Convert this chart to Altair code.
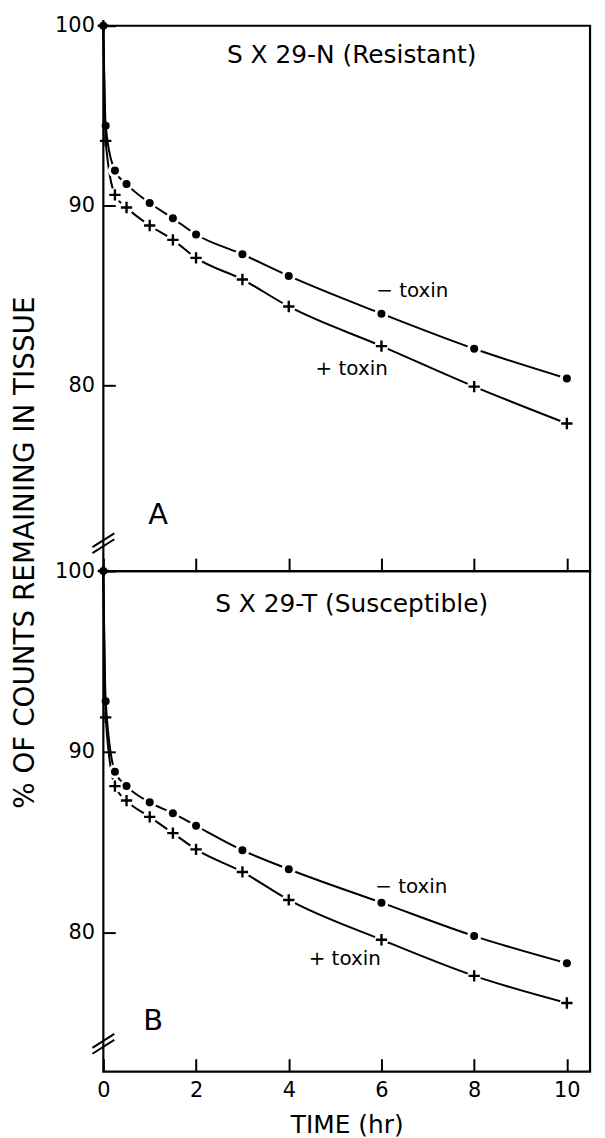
import altair as alt
import pandas as pd

# ---- data ----
times = [0, 0.05, 0.25, 0.5, 1, 1.5, 2, 3, 4, 6, 8, 10]
a_minus = [100, 94.45, 91.95, 91.2, 90.15, 89.3, 88.4, 87.3, 86.1, 84.0, 82.05, 80.4]
a_plus = [100, 93.6, 90.6, 89.9, 88.9, 88.1, 87.1, 85.9, 84.4, 82.2, 79.95, 77.9]
b_minus = [100, 92.8, 88.9, 88.1, 87.2, 86.6, 85.9, 84.55, 83.5, 81.65, 79.8, 78.3]
b_plus = [100, 91.9, 88.1, 87.3, 86.4, 85.5, 84.6, 83.35, 81.8, 79.6, 77.6, 76.1]
x_ticks = [0, 2, 4, 6, 8, 10]
y_ticks = [80, 90, 100]

FONT = "DejaVu Sans"
CROSS = "M-1,0H1M0,-1V1"
W = 490


def txt(s, px, py, size):
    return alt.Chart(pd.DataFrame({"t": [s]})).mark_text(
        font=FONT, fontSize=size, align="center", baseline="middle", color="black"
    ).encode(text="t:N", x=alt.value(px), y=alt.value(py))


def brk(yc):
    return alt.Chart(pd.DataFrame({"k": [0]})).mark_rule(
        color="black", strokeWidth=2
    ).encode(x=alt.value(-11), x2=alt.value(11), y=alt.value(yc + 7), y2=alt.value(yc - 7))


def panel(minus, plus, ymin, height, title, letter, labels, bottom, ytitle):
    n = len(times)
    df = pd.DataFrame({
        "time": times * 2,
        "pct": minus + plus,
        "series": ["minus"] * n + ["plus"] * n,
    })
    if bottom:
        xaxis = alt.Axis(values=x_ticks, offset=-13, tickSize=13, domain=False, grid=False,
                         labels=True, labelFlush=False, labelPadding=8, title="TIME (hr)",
                         titleFontSize=25, titlePadding=12, format="d")
    else:
        xaxis = alt.Axis(values=x_ticks, offset=-13, tickSize=13, domain=False, grid=False,
                         labels=False, title=None)
    if ytitle:
        yaxis = alt.Axis(values=y_ticks, offset=-12, tickSize=12, domain=False, grid=False,
                         labelPadding=9, title="% OF COUNTS REMAINING IN TISSUE",
                         titleFontSize=28, titleX=-90, titleY=530, titleAngle=270,
                         titleAlign="center", titleBaseline="middle")
    else:
        yaxis = alt.Axis(values=y_ticks, offset=-12, tickSize=12, domain=False, grid=False,
                         labelPadding=9, title=None)
    base = alt.Chart(df).encode(
        x=alt.X("time:Q", scale=alt.Scale(domain=[0, 10.5], nice=False, zero=False), axis=xaxis),
        y=alt.Y("pct:Q", scale=alt.Scale(domain=[ymin, 100], nice=False, zero=False), axis=yaxis),
    )
    lines = base.mark_line(interpolate="monotone", color="black", strokeWidth=2).encode(
        detail="series:N")
    halo = base.transform_filter("datum.time >= 0.25").mark_point(
        shape="circle", filled=True, color="white", opacity=1, size=200)
    dots = base.transform_filter("datum.series == 'minus'").mark_point(
        shape="circle", filled=True, color="black", opacity=1, size=65)
    crosses = base.transform_filter("datum.series == 'plus'").mark_point(
        shape=CROSS, filled=False, color="black", strokeWidth=2.4, opacity=1, size=130)
    layers = [lines, halo, dots, crosses,
              txt(title, 250, labels[0], 25),
              txt("\u2212 toxin", labels[1][0], labels[1][1], 20),
              txt("+ toxin", labels[2][0], labels[2][1], 20),
              txt(letter, labels[3][0], labels[3][1], 29),
              brk(height - 31), brk(height - 25)]
    return alt.layer(*layers).properties(width=W, height=height)


A = panel(a_minus, a_plus, 69.7, 549, "S X 29-N (Resistant)", "A",
          [29, (311, 267), (250, 346), (55, 493)], False, True)
B = panel(b_minus, b_plus, 72.3, 504, "S X 29-T (Susceptible)", "B",
          [33, (310, 318), (243, 391), (50, 453)], True, False)

chart = alt.vconcat(A, B, spacing=0, bounds="flush").configure_view(
    stroke="black", strokeWidth=2.2
).configure_axis(
    labelFont=FONT, labelFontSize=21, titleFont=FONT, labelColor="black",
    tickColor="black", tickWidth=2, titleColor="black", titleFontWeight="normal"
).properties(padding={"left": 2, "top": 1, "right": 5, "bottom": 5})

chart.save("out.html", embed_options={"renderer": "svg", "actions": False})
